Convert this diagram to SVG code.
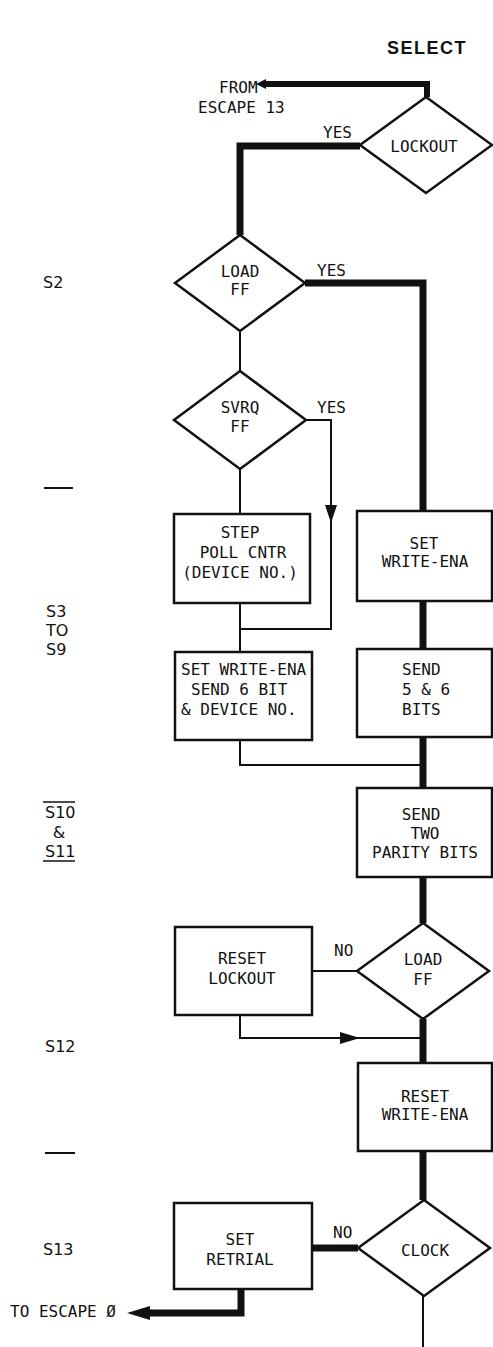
<svg xmlns="http://www.w3.org/2000/svg" width="493" height="1347" viewBox="0 0 493 1347">
<style>
.box{fill:#fff;stroke:#111;stroke-width:2.5}
.thin{fill:none;stroke:#111;stroke-width:2}
.thick{fill:none;stroke:#111;stroke-width:7}
.head{fill:#111;stroke:none}
.t{font-family:"DejaVu Sans Mono",monospace;font-size:16px;fill:#111}
.m{text-anchor:middle}
.lbl{font-family:"DejaVu Sans","Liberation Sans",sans-serif;font-size:16px;fill:#111}
.title{font-family:"Liberation Sans",Arial,sans-serif;font-weight:bold;font-size:18px;letter-spacing:1.5px;fill:#111}
</style>
<rect width="493" height="1347" fill="#fff"/>
<text class="title" x="387" y="54">SELECT</text>

<g id="side-labels">
<text class="lbl" x="43" y="288">S2</text>
<line x1="44" y1="488" x2="73" y2="488" stroke="#111" stroke-width="2"/>
<text class="lbl" x="46" y="617">S3</text>
<text class="lbl" x="46" y="636">TO</text>
<text class="lbl" x="46" y="655">S9</text>
<text class="lbl" x="45" y="818">S10</text>
<line x1="43" y1="802" x2="75" y2="802" stroke="#111" stroke-width="1.5"/>
<text class="lbl m" x="59" y="838">&amp;</text>
<text class="lbl" x="45" y="857">S11</text>
<line x1="43" y1="861" x2="75" y2="861" stroke="#111" stroke-width="1.5"/>
<text class="lbl" x="45" y="1052">S12</text>
<line x1="45" y1="1153" x2="75" y2="1153" stroke="#111" stroke-width="2"/>
<text class="lbl" x="43" y="1255">S13</text>
</g>

<g id="connectors">
<path class="thin" d="M263 84 H427 V97" style="stroke-width:6"/>
<polygon class="head" points="256,84 266,79 266,89"/>
<path class="thick" d="M360 146 H240 V235"/>
<path class="thick" d="M305 283 H423 V511"/>
<path class="thin" d="M240 331 V371"/>
<path class="thin" d="M240 469 V514"/>
<path class="thin" d="M307 420 H331 V629 H240"/>
<polygon class="head" points="331,523 325,505 337,505"/>
<path class="thin" d="M240 603 V652"/>
<path class="thick" d="M423 601 V649"/>
<path class="thin" d="M240 740 V765 H423"/>
<path class="thick" d="M423 737 V788"/>
<path class="thick" d="M423 877 V923"/>
<path class="thin" d="M357 971 H312"/>
<path class="thin" d="M240 1015 V1038 H423"/>
<polygon class="head" points="360,1038 340,1032 340,1044"/>
<path class="thick" d="M423 1019 V1063"/>
<path class="thick" d="M423 1151 V1200"/>
<path class="thin" d="M423 1296 V1347"/>
<path class="thick" d="M358 1248 H312"/>
<path class="thick" d="M241 1289 V1313 H145"/>
<polygon class="head" points="127,1313 150,1306 150,1320"/>
<text class="t" x="219" y="93">FROM</text>
<text class="t" x="198" y="113">ESCAPE 13</text>
<text class="t" x="323" y="138">YES</text>
<text class="t" x="317" y="276">YES</text>
<text class="t" x="317" y="413">YES</text>
<text class="t" x="334" y="956">NO</text>
<text class="t" x="333" y="1238">NO</text>
<text class="t" x="10" y="1317">TO ESCAPE Ø</text>
</g>

<g id="lockout">
<polygon class="box" points="426,97 492,145 426,193 360,145"/>
<text class="t m" x="424" y="152">LOCKOUT</text>
</g>
<g id="loadff1">
<polygon class="box" points="240,235 305,283 240,331 175,283"/>
<text class="t m" x="240" y="277">LOAD</text>
<text class="t m" x="240" y="295">FF</text>
</g>
<g id="svrq">
<polygon class="box" points="240,371 306,420 240,469 174,420"/>
<text class="t m" x="240" y="413">SVRQ</text>
<text class="t m" x="240" y="432">FF</text>
</g>
<g id="step">
<rect class="box" x="174" y="514" width="136" height="89"/>
<text class="t m" x="240" y="538">STEP</text>
<text class="t m" x="243" y="558">POLL CNTR</text>
<text class="t m" x="240" y="578">(DEVICE NO.)</text>
</g>
<g id="setwe">
<rect class="box" x="357" y="511" width="135" height="90"/>
<text class="t m" x="424" y="549">SET</text>
<text class="t m" x="425" y="567">WRITE-ENA</text>
</g>
<g id="setwe-send">
<rect class="box" x="175" y="652" width="137" height="88"/>
<text class="t" x="181" y="675">SET WRITE-ENA</text>
<text class="t" x="191" y="695">SEND 6 BIT</text>
<text class="t" x="181" y="715">&amp; DEVICE NO.</text>
</g>
<g id="send56">
<rect class="box" x="357" y="649" width="135" height="88"/>
<text class="t" x="402" y="675">SEND</text>
<text class="t" x="402" y="695">5 &amp; 6</text>
<text class="t" x="402" y="715">BITS</text>
</g>
<g id="sendtwo">
<rect class="box" x="357" y="788" width="135" height="89"/>
<text class="t m" x="421" y="820">SEND</text>
<text class="t m" x="425" y="839">TWO</text>
<text class="t m" x="425" y="858">PARITY BITS</text>
</g>
<g id="loadff2">
<polygon class="box" points="423,923 489,971 423,1019 357,971"/>
<text class="t m" x="423" y="965">LOAD</text>
<text class="t m" x="423" y="985">FF</text>
</g>
<g id="resetlock">
<rect class="box" x="175" y="927" width="137" height="88"/>
<text class="t m" x="242" y="964">RESET</text>
<text class="t m" x="242" y="984">LOCKOUT</text>
</g>
<g id="resetwe">
<rect class="box" x="358" y="1063" width="134" height="88"/>
<text class="t m" x="425" y="1102">RESET</text>
<text class="t m" x="425" y="1120">WRITE-ENA</text>
</g>
<g id="clock">
<polygon class="box" points="424,1200 490,1248 424,1296 358,1248"/>
<text class="t m" x="425" y="1256">CLOCK</text>
</g>
<g id="setretrial">
<rect class="box" x="174" y="1203" width="138" height="86"/>
<text class="t m" x="240" y="1245">SET</text>
<text class="t m" x="240" y="1265">RETRIAL</text>
</g>
</svg>
